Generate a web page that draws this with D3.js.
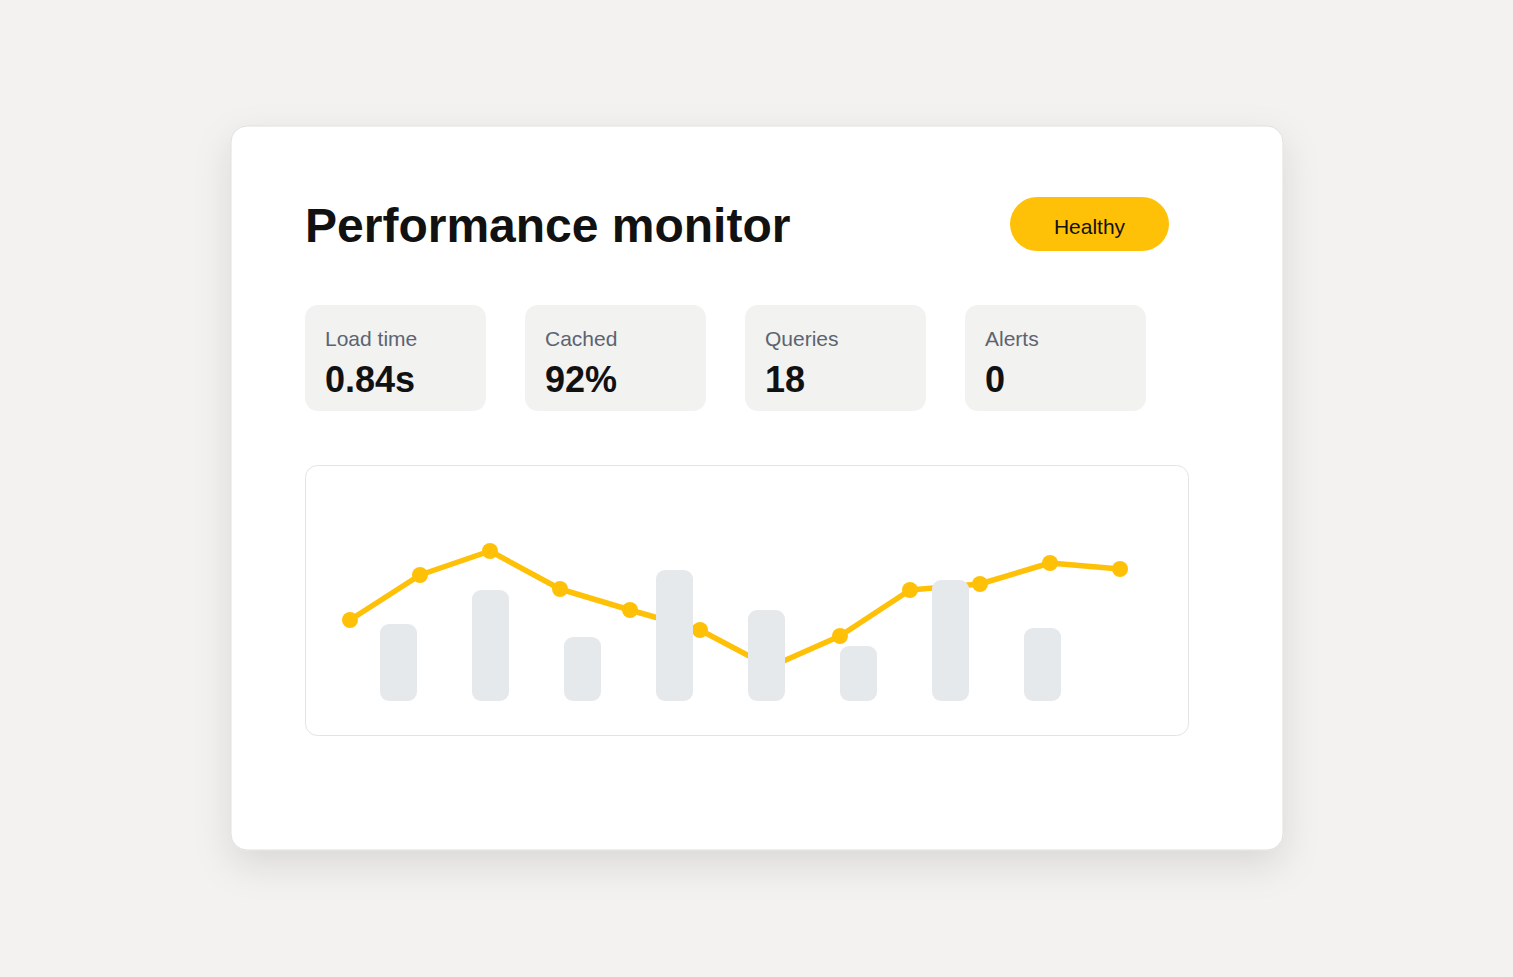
<!DOCTYPE html>
<html>
<head>
<meta charset="utf-8">
<script src="https://cdn.jsdelivr.net/npm/d3@7"></script>
<style>
  html, body { margin: 0; padding: 0; background: #F3F2F0; }
  svg { display: block; }
  text { font-family: "Liberation Sans", Arial, Helvetica, sans-serif; }
</style>
</head>
<body>
<svg id="chart" width="1513" height="977"></svg>
<script>
// ---- data ----
const title = "Performance monitor";
const status = "Healthy";
const statLabels = ["Load time", "Cached", "Queries", "Alerts"];
const statValues = ["0.84s", "92%", "18", "0"];
const linePoints = ["p1","p2","p3","p4","p5","p6","p7","p8","p9","p10","p11","p12"];
const lineValues = [40.5, 63, 75, 56, 45.5, 35.5, 17, 32.5, 55.5, 58.5, 69, 66];
const barCategories = ["b1","b2","b3","b4","b5","b6","b7","b8"];
const barValues = [38.5, 55.5, 32, 65.5, 45.5, 27.5, 60.5, 36.5];

// ---- layout ----
const svg = d3.select("#chart");
const accent = "#FFC107";

const defs = svg.append("defs");
const f = defs.append("filter").attr("id", "shadow")
  .attr("x", "-20%").attr("y", "-20%").attr("width", "140%").attr("height", "150%");
f.append("feDropShadow").attr("dx", 0).attr("dy", 14).attr("stdDeviation", 18)
  .attr("flood-color", "#000").attr("flood-opacity", 0.11);

// card
svg.append("rect")
  .attr("x", 231).attr("y", 126).attr("width", 1052).attr("height", 724)
  .attr("rx", 16).attr("fill", "#fff")
  .attr("stroke", "#E0DFDD").attr("stroke-width", 1)
  .attr("filter", "url(#shadow)");

// title
svg.append("text").attr("x", 305).attr("y", 242)
  .attr("font-size", 48).attr("font-weight", 700).attr("fill", "#111")
  .text(title);

// badge
svg.append("rect").attr("x", 1010).attr("y", 197).attr("width", 159).attr("height", 54)
  .attr("rx", 27).attr("fill", accent);
svg.append("text").attr("x", 1089.5).attr("y", 233.5).attr("text-anchor", "middle")
  .attr("font-size", 21).attr("fill", "#111").text(status);

// stat tiles
const tileX = d3.scaleBand().domain(statLabels).range([305, 1146]).paddingInner(39/220).paddingOuter(0);
const tiles = svg.selectAll("g.tile").data(statLabels).join("g")
  .attr("class", "tile")
  .attr("transform", d => `translate(${tileX(d)},305)`);
tiles.append("rect").attr("width", tileX.bandwidth()).attr("height", 106)
  .attr("rx", 13).attr("fill", "#F2F2F1");
tiles.append("text").attr("x", 20).attr("y", 41)
  .attr("font-size", 21).attr("fill", "#5B6470").text(d => d);
tiles.append("text").attr("x", 20).attr("y", 87)
  .attr("font-size", 36).attr("font-weight", 700).attr("fill", "#111")
  .text((d, i) => statValues[i]);

// chart panel
svg.append("rect").attr("x", 305.5).attr("y", 465.5).attr("width", 883).attr("height", 270)
  .attr("rx", 12).attr("fill", "#fff").attr("stroke", "#E4E4E4").attr("stroke-width", 1);

const y = d3.scaleLinear().domain([0, 100]).range([701, 501]);
const xLine = d3.scalePoint().domain(linePoints).range([350, 1120]);
const xBar = d3.scaleBand().domain(barCategories).range([380, 1061])
  .paddingInner(55/92).paddingOuter(0);

// line
const line = d3.line().x((d, i) => xLine(linePoints[i])).y(d => y(d));
svg.append("path").datum(lineValues)
  .attr("d", line).attr("fill", "none")
  .attr("stroke", accent).attr("stroke-width", 5.5).attr("stroke-linejoin", "round");
svg.selectAll("circle.pt").data(lineValues).join("circle")
  .attr("class", "pt")
  .attr("cx", (d, i) => xLine(linePoints[i])).attr("cy", d => y(d))
  .attr("r", 8).attr("fill", accent);

// bars (drawn over the line)
svg.selectAll("rect.bar").data(barValues).join("rect")
  .attr("class", "bar")
  .attr("x", (d, i) => xBar(barCategories[i]))
  .attr("y", d => y(d))
  .attr("width", xBar.bandwidth())
  .attr("height", d => y(0) - y(d))
  .attr("rx", 9).attr("fill", "#E6E9EC");
</script>
</body>
</html>
